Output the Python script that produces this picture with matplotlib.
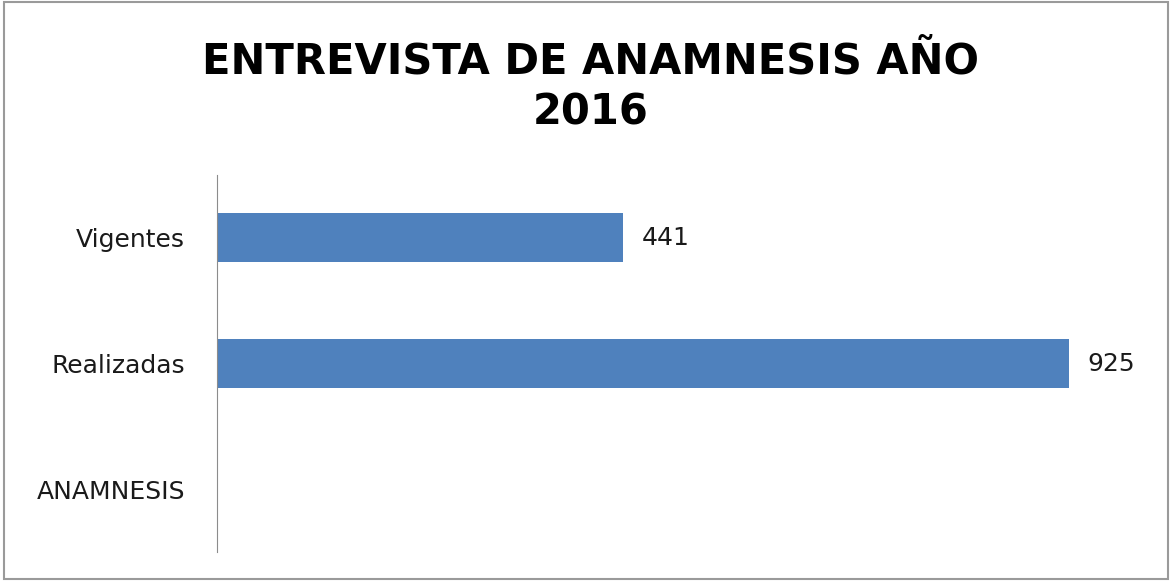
import matplotlib
matplotlib.use("Agg")
import matplotlib.pyplot as plt
from matplotlib.patches import Rectangle

categories = ["ANAMNESIS", "Realizadas", "Vigentes"]
values = [0, 925, 441]
bar_labels = ["", "925", "441"]
title = "ENTREVISTA DE ANAMNESIS AÑO\n2016"

plt.rcParams["font.family"] = ["DejaVu Sans"]

fig = plt.figure(figsize=(11.72, 5.81), dpi=100)
ax = fig.add_axes([0.1852, 0.0499, 0.7858, 0.6489])

bars = ax.barh(categories, values, height=0.39, color="#4F81BD")
ax.bar_label(bars, labels=bar_labels, padding=13, fontsize=18, color="#1a1a1a")

ax.set_xlim(0, 1000)
ax.set_ylim(-0.5, 2.5)
ax.set_xticks([])
ax.tick_params(axis="y", length=0, pad=23, labelsize=18, labelcolor="#1a1a1a")
for side in ("top", "right", "bottom"):
    ax.spines[side].set_visible(False)
ax.spines["left"].set_color("#8c8c8c")

fig.text(0.504, 1 - 40 / 581, title, ha="center", va="top", fontsize=30,
         fontweight="bold", linespacing=1.3)

fig.patches.append(Rectangle((0.003, 0.004), 0.994, 0.992, transform=fig.transFigure,
                             fill=False, edgecolor="#9a9a9a", linewidth=1.5))

fig.savefig("out.png", dpi=100)
